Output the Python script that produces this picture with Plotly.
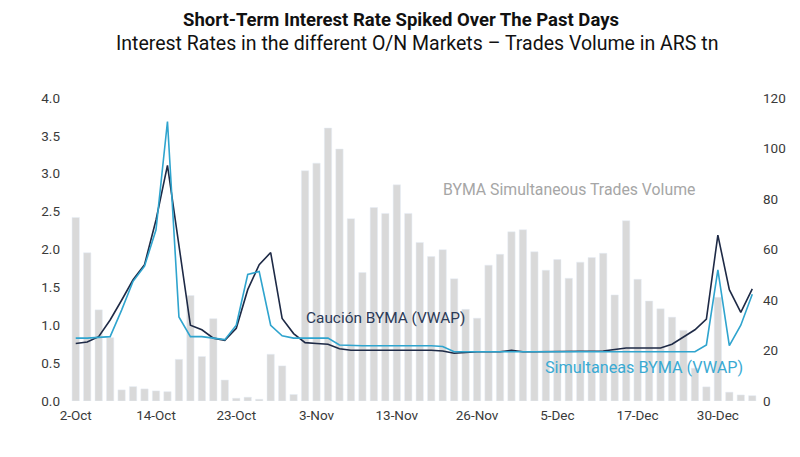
import plotly.graph_objects as go

# ---- data ----
tick_labels = ["2-Oct", "14-Oct", "23-Oct", "3-Nov", "13-Nov", "26-Nov", "5-Dec", "17-Dec", "30-Dec"]
tick_positions = [0, 7, 14, 21, 28, 35, 42, 49, 56]

volume = [72.7, 58.7, 36.1, 25.1, 4.4, 5.7, 4.8, 4.0, 3.7, 16.5,
          41.8, 17.6, 32.6, 8.3, 1.1, 1.5, 0.7, 18.5, 13.9, 2.6,
          91.2, 94.2, 108.1, 99.8, 72.2, 50.9, 76.6, 74.3, 85.6, 74.3,
          62.8, 57.2, 59.9, 48.4, 36.3, 32.8, 53.8, 58.1, 67.0, 67.8,
          59.1, 51.8, 56.0, 48.6, 55.0, 56.8, 58.5, 42.0, 71.4, 48.2,
          39.6, 36.5, 33.2, 28.0, 13.0, 5.6, 41.1, 3.5, 2.4, 2.1]

caucion = [0.76, 0.78, 0.85, 1.07, 1.33, 1.60, 1.80, 2.39, 3.11, 2.05,
           1.00, 0.94, 0.83, 0.80, 0.96, 1.47, 1.80, 1.96, 1.09, 0.89,
           0.77, 0.76, 0.75, 0.69, 0.67, 0.67, 0.67, 0.67, 0.67, 0.67,
           0.67, 0.67, 0.66, 0.63, 0.64, 0.65, 0.65, 0.65, 0.67, 0.65,
           0.65, 0.65, 0.65, 0.65, 0.65, 0.65, 0.66, 0.68, 0.70, 0.70,
           0.70, 0.70, 0.75, 0.85, 0.94, 1.08, 2.19, 1.47, 1.17, 1.48]

simultaneas = [0.83, 0.83, 0.84, 0.85, 1.20, 1.58, 1.78, 2.26, 3.69, 1.11,
               0.85, 0.85, 0.83, 0.81, 1.00, 1.67, 1.71, 1.00, 0.86, 0.83,
               0.83, 0.83, 0.83, 0.74, 0.73, 0.73, 0.73, 0.73, 0.73, 0.73,
               0.73, 0.73, 0.72, 0.65, 0.65, 0.65, 0.65, 0.65, 0.65, 0.65,
               0.65, 0.65, 0.65, 0.65, 0.65, 0.65, 0.65, 0.65, 0.65, 0.65,
               0.65, 0.65, 0.65, 0.65, 0.65, 0.74, 1.73, 0.73, 1.00, 1.41]

x = list(range(len(volume)))

NAVY = "#1E2A46"
BLUE = "#2FA4CE"
GRAY_BAR = "#D9D9D9"
FONT = "Roboto"
TICK = dict(size=13.5, color="#3A3A3A", family=FONT)

# the page body adds an 8px margin, so the figure is 8px smaller than the window
W, H = 792, 449
ML, MR, MT, MB = 61.6, 42.2, 90.3, 56

fig = go.Figure()
fig.add_trace(go.Bar(x=x, y=volume, marker_color=GRAY_BAR, yaxis="y",
                     name="BYMA Simultaneous Trades Volume"))
fig.add_trace(go.Scatter(x=x, y=caucion, mode="lines", yaxis="y2",
                         line=dict(color=NAVY, width=1.6), name="Caución BYMA (VWAP)"))
fig.add_trace(go.Scatter(x=x, y=simultaneas, mode="lines", yaxis="y2",
                         line=dict(color=BLUE, width=1.6), name="Simultaneas BYMA (VWAP)"))

fig.update_layout(
    width=W, height=H,
    margin=dict(l=ML, r=MR, t=MT, b=MB, pad=0),
    paper_bgcolor="white", plot_bgcolor="white",
    showlegend=False,
    bargap=0.36,
    font=dict(family=FONT, color="#333333"),
    xaxis=dict(range=[-0.5, len(volume) - 0.5], tickvals=tick_positions, ticktext=tick_labels,
               showgrid=False, zeroline=False, showline=False, ticks="",
               tickfont=TICK, ticklabelstandoff=4),
    yaxis=dict(range=[0, 120], tickvals=[0, 20, 40, 60, 80, 100, 120], side="right",
               showgrid=False, zeroline=False, showline=False, ticks="",
               tickfont=TICK, ticklabelstandoff=4),
    yaxis2=dict(range=[0, 4], tickvals=[0, 0.5, 1, 1.5, 2, 2.5, 3, 3.5, 4], tickformat=".1f",
                overlaying="y", side="left", showgrid=False, zeroline=False, showline=False,
                ticks="", tickfont=TICK, ticklabelstandoff=9),
)

plot_w = W - ML - MR
fig.add_annotation(text="<b>Short-Term Interest Rate Spiked Over The Past Days</b>",
                   xref="paper", yref="paper", x=(393 - ML) / plot_w, y=1,
                   xanchor="center", yanchor="middle", yshift=MT - 12.5, showarrow=False,
                   font=dict(size=18.5, color="#111111", family=FONT))
fig.add_annotation(text="Interest Rates in the different O/N Markets – Trades Volume in ARS tn",
                   xref="paper", yref="paper", x=(408.5 - ML) / plot_w, y=1,
                   xanchor="center", yanchor="middle", yshift=MT - 36, showarrow=False,
                   font=dict(size=19.5, color="#111111", family=FONT))

layout_text = [
    ("BYMA Simultaneous Trades Volume", 43.0, 2.79, "#A6A6A6", 15.8),
    ("Caución BYMA (VWAP)", 27.0, 1.10, "#2B3A57", 15.4),
    ("Simultaneas BYMA (VWAP)", 49.6, 0.44, "#3AAAD3", 16.2),
]
for txt, xp, yp, col, sz in layout_text:
    fig.add_annotation(text=txt, x=xp, y=yp, xref="x", yref="y2", showarrow=False,
                       xanchor="center", yanchor="middle",
                       font=dict(size=sz, color=col, family=FONT))

fig.write_html("out.html")
